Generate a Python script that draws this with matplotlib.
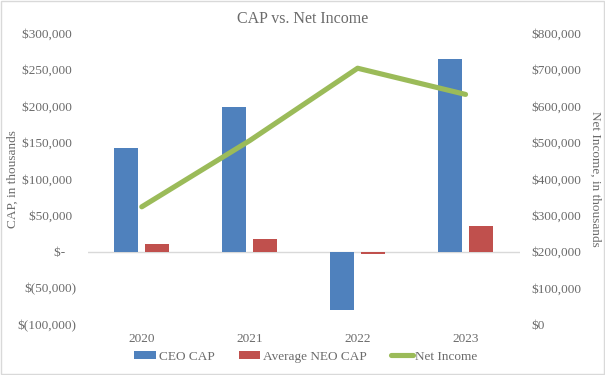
import numpy as np
import matplotlib.pyplot as plt
from matplotlib.ticker import FuncFormatter

years = ["2020", "2021", "2022", "2023"]
ceo_cap = [142800, 198800, -79900, 264700]
neo_cap = [10900, 16900, -3700, 34800]
net_income = [323000, 505000, 704000, 632000]

plt.rcParams['font.family'] = ['Liberation Serif', 'DejaVu Serif']
gray = '#6B6B6B'
fs = 9.5


def left_fmt(v, pos):
    # accounting style: positives keep a ")"-wide space at the end
    if v == 0:
        return '$-\u2002\u2004'
    if v < 0:
        return '$({:,.0f})'.format(-v)
    return '${:,.0f}\u2004'.format(v)


def right_fmt(v, pos):
    return '${:,.0f}'.format(v)


fig = plt.figure(figsize=(6.05, 3.75), dpi=100)
ax = fig.add_axes([87.8 / 605, 1 - 324.3 / 375, 431.7 / 605, 291 / 375])
ax2 = ax.twinx()

x = np.arange(len(years))
w = 0.222
ax.bar(x - 0.144, ceo_cap, w, color='#4F81BD', label='CEO CAP', zorder=3)
ax.bar(x + 0.143, neo_cap, w, color='#C0504D', label='Average NEO CAP', zorder=3)
ax2.plot(x, net_income, color='#9BBB59', lw=3.7, solid_capstyle='round',
         label='Net Income')

ax.set_xlim(-0.5, 3.5)
ax.set_ylim(-100000, 300000)
ax.set_yticks(np.arange(-100000, 300001, 50000))
ax.yaxis.set_major_formatter(FuncFormatter(left_fmt))
ax2.set_ylim(0, 800000)
ax2.set_yticks(np.arange(0, 800001, 100000))
ax2.yaxis.set_major_formatter(FuncFormatter(right_fmt))
ax.axhline(0, color='#D9D9D9', lw=1, zorder=1)

ax.set_xticks(x)
ax.set_xticklabels(years)
for a in (ax, ax2):
    for s in a.spines.values():
        s.set_visible(False)
    a.tick_params(length=0, labelsize=fs, colors=gray, pad=8.4)
ax.tick_params(axis='x', pad=6)

ax.set_ylabel('CAP, in thousands', color=gray, fontsize=fs, va='center')
ax.yaxis.set_label_coords((13 - 87.8) / 431.7, 0.5)
ax2.set_ylabel('Net Income, in thousands', color=gray, fontsize=fs,
               rotation=270, va='center')
ax2.yaxis.set_label_coords((595 - 87.8) / 431.7, 0.5)
fig.text(0.5, 1 - 19 / 375, 'CAP vs. Net Income', color=gray,
         fontsize=11.5, ha='center', va='center')

h1, l1 = ax.get_legend_handles_labels()
h2, l2 = ax2.get_legend_handles_labels()
leg = fig.legend(h1 + h2, l1 + l2, loc='center', ncol=3,
                 bbox_to_anchor=(306 / 605, 1 - 356.7 / 375), frameon=False,
                 fontsize=fs, handlelength=1.64, handleheight=0.58,
                 columnspacing=1.85, handletextpad=0.2,
                 borderpad=0, borderaxespad=0)
for t in leg.get_texts():
    t.set_color(gray)

fig.patches.append(plt.Rectangle((0.002, 0.003), 0.996, 0.994,
                                 transform=fig.transFigure, fill=False,
                                 edgecolor='#D9D9D9', lw=1))
fig.savefig('out.png', dpi=100)
